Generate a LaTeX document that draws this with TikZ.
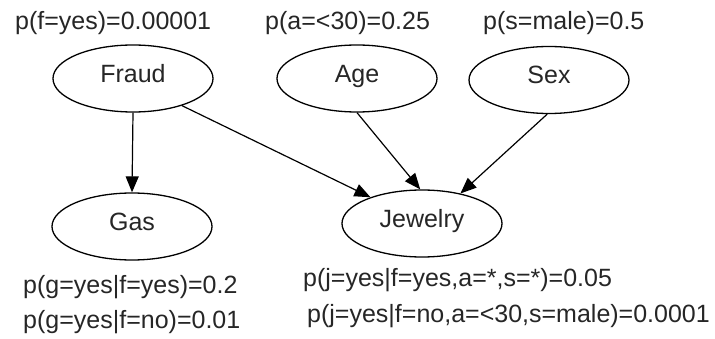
\documentclass[tikz,border=0pt]{standalone}
\usepackage{fontspec}
\setmainfont{Liberation Sans}
\usetikzlibrary{arrows.meta,shapes.geometric}

\begin{document}
\begin{tikzpicture}[x=1pt,y=-1pt,
  font=\fontsize{25}{30}\selectfont,
  var/.style={ellipse, draw=black, line width=1.3pt, inner sep=0pt,
    minimum width=160pt, minimum height=67pt,
    text height=0.72em, text depth=0pt, text=black!85},
  prob/.style={anchor=base west, inner sep=0pt, text=black!85},
  edge/.style={draw=black, line width=1.2pt,
    -{Triangle[length=16pt,width=13pt]}}]

  % page frame
  \useasboundingbox (0,0) rectangle (715,339);

  % variables
  \node[var] (fraud)   at (133,78.5)  {Fraud};
  \node[var] (age)     at (357,78.5)  {Age};
  \node[var] (sex)     at (549,80)    {Sex};
  \node[var] (gas)     at (132,226.5) {Gas};
  \node[var] (jewelry) at (422,223.5) {Jewelry};

  % priors
  \node[prob] (pf) at (15,30)  {p(f=yes)=0.00001};
  \node[prob] (pa) at (265,30) {p(a=<30)=0.25};
  \node[prob] (ps) at (483,30) {p(s=male)=0.5};

  % conditional tables
  \node[prob] (pg1) at (23,293)  {p(g=yes|f=yes)=0.2};
  \node[prob] (pg2) at (23,328)  {p(g=yes|f=no)=0.01};
  \node[prob] (pj1) at (303,287) {p(j=yes|f=yes,a=*,s=*)=0.05};
  \node[prob] (pj2) at (307,322) {p(j=yes|f=no,a=<30,s=male)=0.0001};

  % dependencies
  \draw[edge] (fraud.south) -- (gas.north);
  \draw[edge] (fraud.-29) -- (jewelry.153);
  \draw[edge] (age.-90) -- (jewelry.93);
  \draw[edge] (sex.-93) -- (jewelry.38);
\end{tikzpicture}
\end{document}
